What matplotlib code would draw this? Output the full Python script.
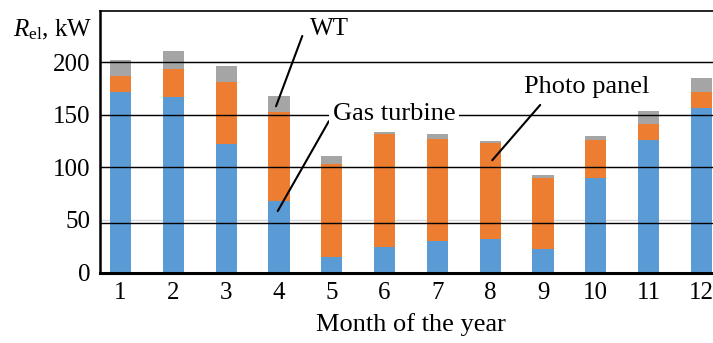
import matplotlib
matplotlib.use("Agg")
import matplotlib.pyplot as plt
import numpy as np

plt.rcParams["font.family"] = ["Liberation Serif", "DejaVu Serif"]
plt.rcParams["mathtext.fontset"] = "custom"
plt.rcParams["mathtext.rm"] = "Liberation Serif"
plt.rcParams["mathtext.it"] = "Liberation Serif:italic"

# Monthly electric power by source, kW
months = [1, 2, 3, 4, 5, 6, 7, 8, 9, 10, 11, 12]
gas_turbine = [172, 167, 122.5, 68, 15, 24, 30, 32, 22, 90, 126, 157]
photo_panel = [15, 26.5, 58.5, 85, 88, 108, 97.5, 91, 68, 36, 15.5, 14.5]
wind_turbine = [15, 17, 16, 15, 7.5, 1.5, 4, 2.5, 3, 4, 12, 14]
y_ticks = [0, 50, 100, 150, 200]
ruled_levels = [200, 150, 100, 47.5]

c_blue = "#5B9BD5"
c_orange = "#ED7D31"
c_gray = "#A5A5A5"

fig = plt.figure(figsize=(7.13, 3.43), dpi=100)
ax = fig.add_axes([0.1403, 0.2055, 1.0126 - 0.1403, 0.968 - 0.2055])

x = np.array(months)
gt = np.array(gas_turbine)
pp = np.array(photo_panel)
wt = np.array(wind_turbine)
w = 0.4
ax.bar(x, gt, w, color=c_blue, zorder=2)
ax.bar(x, pp, w, bottom=gt, color=c_orange, zorder=2)
ax.bar(x, wt, w, bottom=gt + pp, color=c_gray, zorder=2)

ax.set_xlim(0.612, 12.39)
ax.set_ylim(0, 249)
ax.set_yticks(y_ticks)
ax.set_xticks(months)
ax.tick_params(axis="both", length=0, labelsize=18)
ax.tick_params(axis="y", pad=7)
ax.tick_params(axis="x", pad=7)

# faint chart gridlines behind the bars, ruled black lines over them
for v in y_ticks[1:]:
    ax.axhline(v, color="#D9D9D9", lw=1.0, zorder=1)
for v in ruled_levels:
    ax.axhline(v, color="black", lw=1.0, zorder=3)

for side in ["left", "bottom", "top"]:
    ax.spines[side].set_color("black")
ax.spines["left"].set_linewidth(1.8)
ax.spines["bottom"].set_linewidth(2.2)
ax.spines["top"].set_linewidth(1.2)
ax.spines["right"].set_visible(False)

ax.set_xlabel("Month of the year", fontsize=19, labelpad=6)
fig.text(13 / 713, 1 - 36 / 343, r"$R_{\mathrm{el}}$, kW", fontsize=18,
         ha="left", va="baseline")

# source labels with leader lines
ax.annotate("WT", xy=(3.945, 158.3), xytext=(4.59, 231.5), fontsize=18,
            ha="left", va="center", zorder=5,
            arrowprops=dict(arrowstyle="-", color="black", lw=1.5,
                            shrinkA=0, shrinkB=0, relpos=(-0.2, 0.2)))
ax.annotate("Gas turbine", xy=(3.977, 58.5), xytext=(5.02, 150.7), fontsize=19,
            ha="left", va="center", zorder=5,
            bbox=dict(boxstyle="square,pad=0.15", fc="white", ec="none"),
            arrowprops=dict(arrowstyle="-", color="black", lw=1.5,
                            shrinkA=0, shrinkB=0, relpos=(0, 0.5)))
ax.annotate("Photo panel", xy=(8.04, 106.9), xytext=(9.826, 176.3), fontsize=19,
            ha="center", va="center", zorder=5,
            arrowprops=dict(arrowstyle="-", color="black", lw=1.5,
                            shrinkA=0, shrinkB=0, relpos=(0.13, -0.3)))

fig.savefig("out.png", dpi=100)
